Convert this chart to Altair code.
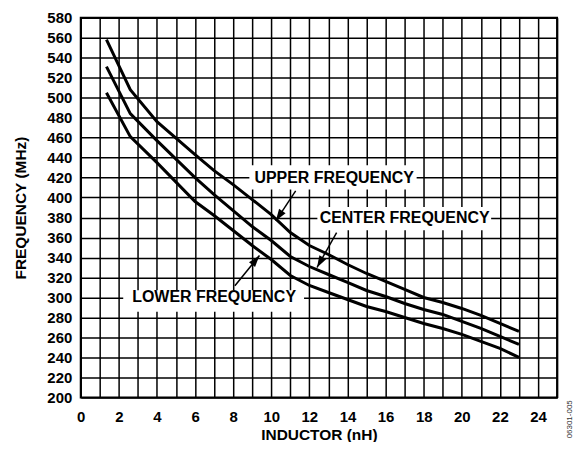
import altair as alt
import pandas as pd
import numpy as np

# ---- data ----
inductor = [1.35, 2.6, 4, 6, 7, 8, 9, 10, 11, 12, 13, 14, 15, 16, 17, 18, 19, 20, 21, 22, 23]
upper = [558, 508, 476, 443, 427, 413, 398, 383, 365, 352, 343, 333, 324, 316, 308, 300, 295, 289, 282, 274, 266]
center = [531, 484, 457, 420, 403, 387, 371, 357, 341, 331, 323, 315, 307, 301, 294, 288, 283, 276, 269, 261, 253]
lower = [505, 461, 435, 396, 382, 367, 352, 338, 322, 312, 305, 298, 291, 286, 280, 274, 269, 263, 256, 249, 240]

label_text = ["UPPER FREQUENCY", "CENTER FREQUENCY", "LOWER FREQUENCY"]
label_x = [13.3, 17.0, 7.0]
label_y = [420, 380, 300]
box_x0 = [8.85, 12.42, 2.23]
box_x1 = [17.63, 21.54, 11.72]
box_y0 = [408, 367.3, 285.6]
box_y1 = [432.3, 390.6, 307.3]
arrow_x0 = [11.28, 13.43, 8.09]
arrow_y0 = [406.7, 365, 311.7]
arrow_x1 = [10.24, 12.4, 9.38]
arrow_y1 = [376.7, 330, 342]

x_ticks = list(range(0, 26))
y_ticks = list(range(200, 581, 20))

FONT = "Liberation Sans"
W, H = 478, 381

curves = pd.DataFrame({"inductor": inductor, "UPPER": upper, "CENTER": center, "LOWER": lower})
long = curves.melt("inductor", var_name="series", value_name="freq")

# arrow head orientation from the arrow direction (in pixels)
sx = W / 25.0
sy = H / 380.0
ang = [float((np.degrees(np.arctan2((a1 - a0) * sx, (b1 - b0) * sy))) % 360)
       for a0, b0, a1, b1 in zip(arrow_x0, arrow_y0, arrow_x1, arrow_y1)]

labels = pd.DataFrame({
    "text": label_text, "lx": label_x, "ly": label_y,
    "bx0": box_x0, "bx1": box_x1, "by0": box_y0, "by1": box_y1,
    "ax0": arrow_x0, "ay0": arrow_y0, "ax1": arrow_x1, "ay1": arrow_y1, "ang": ang,
})

xs = alt.Scale(domain=[0, 25], nice=False, zero=False)
ys = alt.Scale(domain=[200, 580], nice=False, zero=False)

x_axis = alt.Axis(
    values=x_ticks, labelExpr="datum.value % 2 == 0 ? datum.label : ''",
    grid=True, gridColor="black", gridWidth=1.5, gridOpacity=1,
    ticks=False, domain=False, labelFont=FONT, labelFontSize=15, labelFontWeight="bold",
    labelColor="black", labelPadding=12, labelFlush=False, labelOverlap=False,
    title="INDUCTOR (nH)", titleFont=FONT, titleFontSize=15.5, titleFontWeight="bold",
    titleColor="black", titlePadding=3,
)
y_axis = alt.Axis(
    values=y_ticks, grid=True, gridColor="black", gridWidth=1.5, gridOpacity=1,
    ticks=False, domain=False, labelFont=FONT, labelFontSize=15, labelFontWeight="bold",
    labelColor="black", labelPadding=9, labelFlush=False, labelOverlap=False,
    title="FREQUENCY (MHz)", titleFont=FONT, titleFontSize=15.5, titleFontWeight="bold",
    titleColor="black", titlePadding=18,
)

lines = alt.Chart(long).mark_line(color="black", strokeWidth=3).encode(
    x=alt.X("inductor:Q", scale=xs, axis=x_axis),
    y=alt.Y("freq:Q", scale=ys, axis=y_axis),
    detail="series:N",
)

boxes = alt.Chart(labels).mark_rect(color="white", opacity=1).encode(
    x=alt.X("bx0:Q", scale=xs, axis=x_axis), x2="bx1:Q",
    y=alt.Y("by0:Q", scale=ys, axis=y_axis), y2="by1:Q",
)

rules = alt.Chart(labels).mark_rule(color="black", strokeWidth=1.5).encode(
    x=alt.X("ax0:Q", scale=xs, axis=x_axis), x2="ax1:Q",
    y=alt.Y("ay0:Q", scale=ys, axis=y_axis), y2="ay1:Q",
)

heads = alt.Chart(labels).mark_point(
    shape="M0,0 L-0.33,1 L0.33,1 Z", filled=True, color="black", opacity=1,
    size=560, strokeWidth=0,
).encode(
    x=alt.X("ax1:Q", scale=xs, axis=x_axis),
    y=alt.Y("ay1:Q", scale=ys, axis=y_axis),
    angle=alt.Angle("ang:Q", scale=None),
)

texts = alt.Chart(labels).mark_text(
    font=FONT, fontSize=16, fontWeight="bold", color="black", baseline="middle", align="center",
).encode(
    x=alt.X("lx:Q", scale=xs, axis=x_axis),
    y=alt.Y("ly:Q", scale=ys, axis=y_axis),
    text="text:N",
)

code = alt.Chart(pd.DataFrame({"t": ["06301-005"]})).mark_text(
    font=FONT, fontSize=8, color="#333333", angle=270, align="center", baseline="middle",
).encode(x=alt.value(W + 13), y=alt.value(H + 22), text="t:N")

chart = alt.layer(lines, boxes, rules, heads, texts, code).properties(
    width=W, height=H,
    autosize=alt.AutoSizeParams(type="none"),
    padding={"left": 73, "top": 9, "right": 17, "bottom": 44},
).configure_view(stroke="black", strokeWidth=2)

chart.save("out.html", embed_options={"renderer": "svg", "actions": False})
